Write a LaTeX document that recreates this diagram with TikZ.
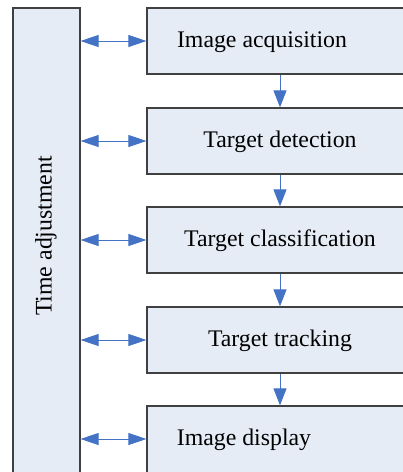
\documentclass[tikz,border=0pt]{standalone}
\usepackage{fontspec}
\setmainfont{Liberation Serif}
\usetikzlibrary{arrows.meta}
\definecolor{boxfill}{RGB}{230,236,246}
\definecolor{boxline}{RGB}{64,64,64}
\definecolor{arrowblue}{RGB}{68,114,196}
\begin{document}
\begin{tikzpicture}[x=1pt, y=-1pt,
		box/.style={rectangle, draw=boxline, fill=boxfill, line width=1.2pt, minimum width=268pt, minimum height=66pt, inner sep=0pt},
		lbl/.style={font=\fontsize{23.8}{28}\selectfont, inner sep=0pt},
		flow/.style={draw=arrowblue, line width=0.9pt, -{Triangle[length=17pt, width=13pt]}},
		sync/.style={draw=arrowblue, line width=0.9pt, {Triangle[length=18pt, width=12pt]}-{Triangle[length=18pt, width=12pt]}}]
	\useasboundingbox (0,0) rectangle (403,472);
	\clip (0,0) rectangle (403,472);

	\node[box, minimum width=67pt, minimum height=480pt] (time) at (46.5, 248) {};
	\node[lbl, rotate=90] (timelbl) at (46, 236) {Time adjustment};

	\node[box] (acq) at (281, 41) {};
	\node[box] (det) at (281, 141) {};
	\node[box] (cls) at (281, 240) {};
	\node[box] (trk) at (281, 340) {};
	\node[box, minimum height=80pt] (disp) at (281, 446) {};

	\node[lbl] (acqlbl) at (262, 42) {Image acquisition};
	\node[lbl] (detlbl) at (280, 142) {Target detection};
	\node[lbl] (clslbl) at (280, 241) {Target classification};
	\node[lbl] (trklbl) at (280, 341) {Target tracking};
	\node[lbl] (displbl) at (244, 440) {Image display};

	\draw[flow] (acq.south -| 280,0) -- (det.north -| 280,0);
	\draw[flow] (det.south -| 280,0) -- (cls.north -| 280,0);
	\draw[flow] (cls.south -| 280,0) -- (trk.north -| 280,0);
	\draw[flow] (trk.south -| 280,0) -- (disp.north -| 280,0);

	\draw[sync] (time.east |- acq.west) -- (acq.west);
	\draw[sync] (time.east |- det.west) -- (det.west);
	\draw[sync] (time.east |- cls.west) -- (cls.west);
	\draw[sync] (time.east |- trk.west) -- (trk.west);
	\draw[sync] (time.east |- 0,439) -- (disp.west |- 0,439);
\end{tikzpicture}
\end{document}
